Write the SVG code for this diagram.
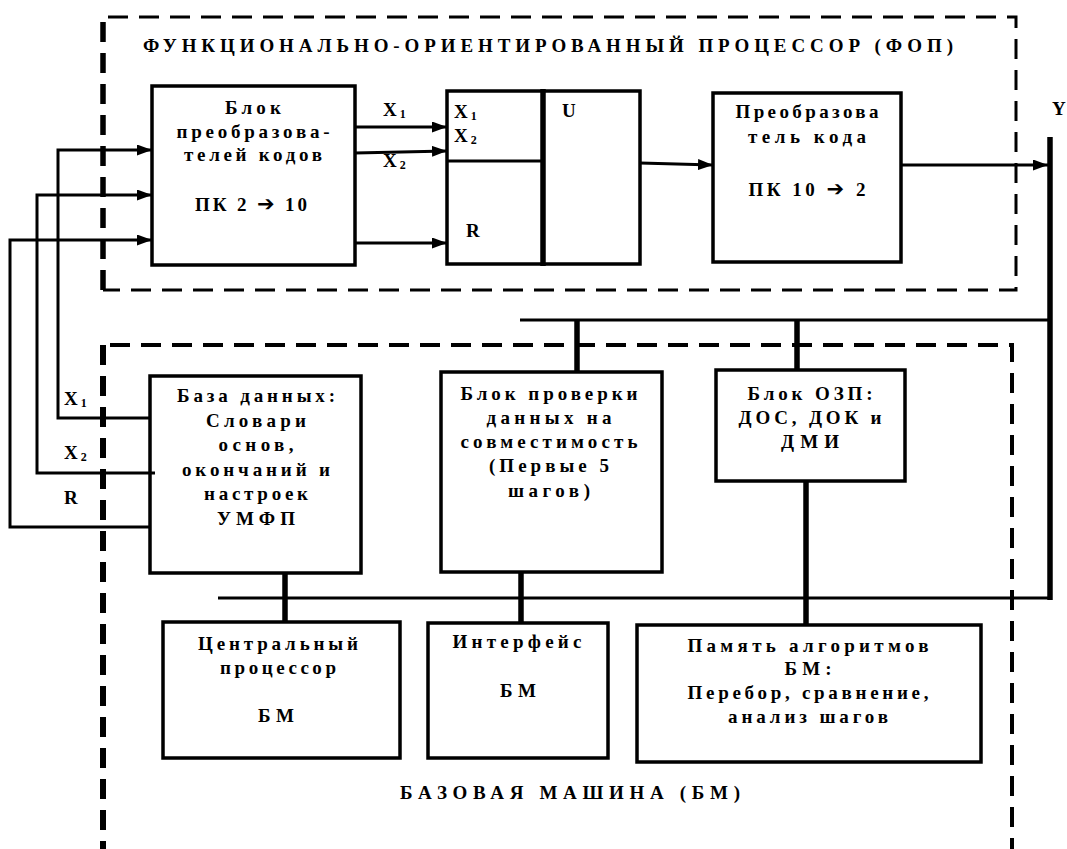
<svg xmlns="http://www.w3.org/2000/svg" width="1067" height="849" viewBox="0 0 1067 849">
<defs>
<style>
.bg{fill:#fff}
.box{fill:none;stroke:#000;stroke-width:3.5}
.ln{fill:none;stroke:#000;stroke-width:3}
.thk{fill:none;stroke:#000;stroke-width:5.5}
.dash{fill:none;stroke:#000;stroke-dasharray:20 11}
.t{font-family:"Liberation Serif","Times New Roman",serif;font-weight:bold;font-size:19px;fill:#000;text-anchor:middle}
.s{font-family:"Liberation Serif","Times New Roman",serif;font-weight:bold;font-size:19px;fill:#000}
.sub{font-size:12px}
.ar{font-family:"DejaVu Sans",sans-serif;font-size:21px}
</style>
<marker id="ah" markerWidth="15" markerHeight="11" refX="15" refY="5.5" orient="auto" markerUnits="userSpaceOnUse"><path d="M0,0 L15,5.5 L0,11 z" fill="#000"/></marker>
</defs>
<rect class="bg" width="1067" height="849"/>

<g id="fop-frame">
<path class="dash" stroke-width="3" d="M108,17 H1016 V290 H103"/>
<path class="dash" stroke-width="5.5" d="M103,290 V17"/>
<text class="s" x="143" y="52" font-size="18" textLength="810" lengthAdjust="spacing">ФУНКЦИОНАЛЬНО-ОРИЕНТИРОВАННЫЙ ПРОЦЕССОР (ФОП)</text>
</g>

<g id="bm-frame">
<path class="dash" stroke-width="4" d="M110,345 H1012 V849"/>
<path class="dash" stroke-width="6" d="M103,345 V849"/>
<text class="s" x="400" y="799" textLength="340" lengthAdjust="spacing">БАЗОВАЯ МАШИНА (БМ)</text>
</g>

<g id="connectors">
<polyline class="ln" points="150,418 58,418 58,150 152,150" marker-end="url(#ah)"/>
<polyline class="ln" points="155,473 37,473 37,195 152,195" marker-end="url(#ah)"/>
<polyline class="ln" points="150,527 10,527 10,240 152,240" marker-end="url(#ah)"/>
<line class="ln" x1="355" y1="127" x2="447" y2="127" marker-end="url(#ah)"/>
<line class="ln" x1="355" y1="153" x2="447" y2="151" marker-end="url(#ah)"/>
<line class="ln" x1="355" y1="243" x2="447" y2="243" marker-end="url(#ah)"/>
<line class="ln" x1="640" y1="163" x2="713" y2="165" marker-end="url(#ah)"/>
<line class="ln" x1="900" y1="165" x2="1048" y2="165" marker-end="url(#ah)"/>
<line class="thk" x1="1050" y1="137" x2="1050" y2="600"/>
<line class="ln" x1="520" y1="320" x2="1050" y2="320"/>
<line class="ln" x1="218" y1="598" x2="1050" y2="598"/>
<line class="thk" x1="577" y1="320" x2="577" y2="372"/>
<line class="thk" x1="797" y1="320" x2="797" y2="370"/>
<line class="thk" x1="285" y1="573" x2="285" y2="622"/>
<line class="thk" x1="521" y1="572" x2="521" y2="623"/>
<line class="thk" x1="806" y1="481" x2="806" y2="625"/>
<text class="s" x="383" y="116">X<tspan class="sub" dx="3" dy="2">1</tspan></text>
<text class="s" x="383" y="167">X<tspan class="sub" dx="3" dy="2">2</tspan></text>
<text class="s" x="1052" y="115">Y</text>
<text class="s" x="64" y="405">X<tspan class="sub" dx="3" dy="2">1</tspan></text>
<text class="s" x="64" y="459">X<tspan class="sub" dx="3" dy="2">2</tspan></text>
<text class="s" x="64" y="504">R</text>
</g>

<g id="pk-2-10">
<rect class="box" x="152" y="86" width="203" height="179"/>
<text class="t" x="253" y="114" textLength="56" lengthAdjust="spacing">Блок</text>
<text class="t" x="253" y="138" textLength="153" lengthAdjust="spacing">преобразова-</text>
<text class="t" x="253" y="161" textLength="138" lengthAdjust="spacing">телей кодов</text>
<text class="t" x="251" y="211" textLength="112" lengthAdjust="spacing">ПК 2 <tspan class="ar">➔</tspan> 10</text>
</g>

<g id="reg-x">
<rect class="box" x="447" y="91" width="96" height="173"/>
<line class="ln" x1="447" y1="161" x2="543" y2="161"/>
<text class="s" x="454" y="118">X<tspan class="sub" dx="3" dy="2">1</tspan></text>
<text class="s" x="454" y="142">X<tspan class="sub" dx="3" dy="2">2</tspan></text>
<text class="s" x="466" y="237">R</text>
</g>

<g id="reg-u">
<rect class="box" x="543" y="91" width="97" height="173"/>
<line class="thk" x1="543" y1="89" x2="543" y2="266"/>
<text class="s" x="562" y="117">U</text>
</g>

<g id="pk-10-2">
<rect class="box" x="713" y="93" width="188" height="169"/>
<text class="t" x="807" y="118" textLength="143" lengthAdjust="spacing">Преобразова</text>
<text class="t" x="807" y="143" textLength="118" lengthAdjust="spacing">тель кода</text>
<text class="t" x="807" y="196" textLength="117" lengthAdjust="spacing">ПК 10 <tspan class="ar">➔</tspan> 2</text>
</g>

<g id="db">
<rect class="box" x="150" y="376" width="211" height="197"/>
<text class="t" x="256" y="402" textLength="158" lengthAdjust="spacing">База данных:</text>
<text class="t" x="256" y="427" textLength="100" lengthAdjust="spacing">Словари</text>
<text class="t" x="256" y="451" textLength="75" lengthAdjust="spacing">основ,</text>
<text class="t" x="256" y="476" textLength="148" lengthAdjust="spacing">окончаний и</text>
<text class="t" x="256" y="500" textLength="104" lengthAdjust="spacing">настроек</text>
<text class="t" x="256" y="525" textLength="78" lengthAdjust="spacing">УМФП</text>
</g>

<g id="check">
<rect class="box" x="441" y="372" width="221" height="200"/>
<text class="t" x="549" y="400" textLength="177" lengthAdjust="spacing">Блок проверки</text>
<text class="t" x="549" y="424" textLength="125" lengthAdjust="spacing">данных на</text>
<text class="t" x="549" y="448" textLength="177" lengthAdjust="spacing">совместимость</text>
<text class="t" x="549" y="472" textLength="120" lengthAdjust="spacing">(Первые 5</text>
<text class="t" x="549" y="497" textLength="82" lengthAdjust="spacing">шагов)</text>
</g>

<g id="ram">
<rect class="box" x="716" y="370" width="189" height="111"/>
<text class="t" x="810" y="400" textLength="125" lengthAdjust="spacing">Блок ОЗП:</text>
<text class="t" x="810" y="424" textLength="143" lengthAdjust="spacing">ДОС, ДОК и</text>
<text class="t" x="810" y="448" textLength="58" lengthAdjust="spacing">ДМИ</text>
</g>

<g id="cpu">
<rect class="box" x="163" y="622" width="237" height="136"/>
<text class="t" x="278" y="650" textLength="160" lengthAdjust="spacing">Центральный</text>
<text class="t" x="278" y="674" textLength="116" lengthAdjust="spacing">процессор</text>
<text class="t" x="276" y="722" textLength="36" lengthAdjust="spacing">БМ</text>
</g>

<g id="iface">
<rect class="box" x="428" y="623" width="180" height="135"/>
<text class="t" x="517" y="648" textLength="129" lengthAdjust="spacing">Интерфейс</text>
<text class="t" x="518" y="697" textLength="36" lengthAdjust="spacing">БМ</text>
</g>

<g id="algo">
<rect class="box" x="637" y="625" width="344" height="137"/>
<text class="t" x="808" y="652" textLength="241" lengthAdjust="spacing">Память алгоритмов</text>
<text class="t" x="808" y="675" textLength="47" lengthAdjust="spacing">БМ:</text>
<text class="t" x="808" y="699" textLength="241" lengthAdjust="spacing">Перебор, сравнение,</text>
<text class="t" x="808" y="723" textLength="160" lengthAdjust="spacing">анализ шагов</text>
</g>
</svg>
